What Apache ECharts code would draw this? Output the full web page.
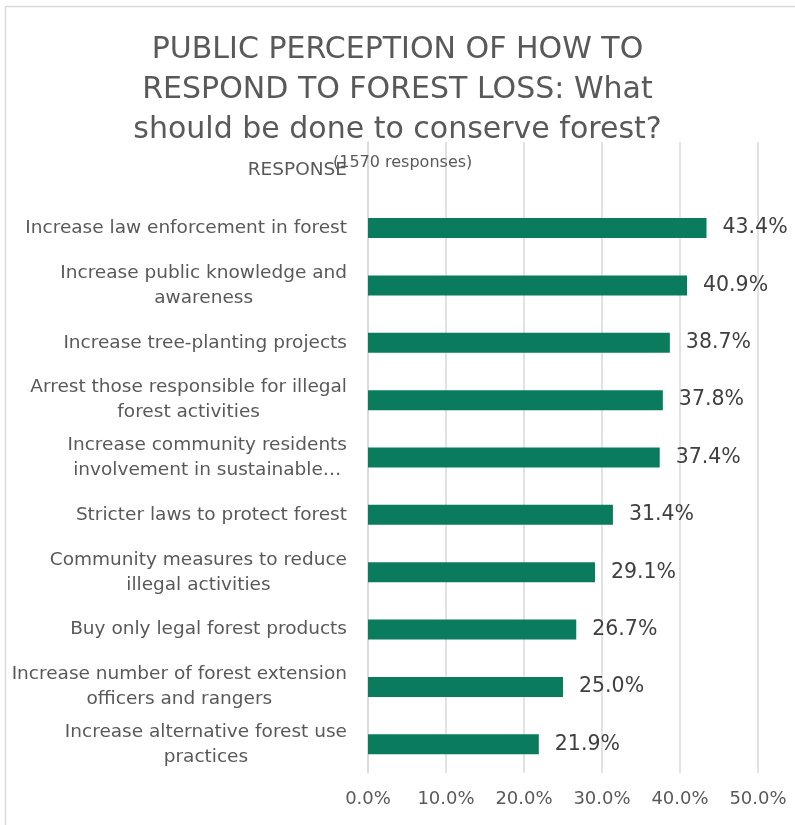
<!DOCTYPE html>
<html>
<head>
<meta charset="utf-8">
<script src="https://cdn.jsdelivr.net/npm/echarts@6/dist/echarts.min.js"></script>
<style>
  html, body { margin: 0; padding: 0; background: #ffffff; }
  #chart { width: 795px; height: 825px; }
</style>
</head>
<body>
<div id="chart"></div>
<script>
// Survey responses, listed top to bottom; "RESPONSE" is the header row with no value
const categories = [
  "RESPONSE",
  "Increase law enforcement in forest",
  "Increase public knowledge and\nawareness",
  "Increase tree-planting projects",
  "Arrest those responsible for illegal\nforest activities",
  "Increase community residents\ninvolvement in sustainable…",
  "Stricter laws to protect forest",
  "Community measures to reduce\nillegal activities",
  "Buy only legal forest products",
  "Increase number of forest extension\nofficers and rangers",
  "Increase alternative forest use\npractices"
];
const shares = [null, 43.4, 40.9, 38.7, 37.8, 37.4, 31.4, 29.1, 26.7, 25.0, 21.9];
const axisTicks = [0, 10, 20, 30, 40, 50];

const FONT = "DejaVu Sans";
const chart = echarts.init(document.getElementById("chart"), null, { renderer: "canvas" });

chart.setOption({
  backgroundColor: "#ffffff",
  animation: false,
  textStyle: { fontFamily: FONT },
  title: [
    {
      text: "PUBLIC PERCEPTION OF HOW TO\nRESPOND TO FOREST LOSS: What\nshould be done to conserve forest?",
      left: "center",
      top: 25,
      textStyle: { fontFamily: FONT, fontSize: 30, fontWeight: "normal", color: "#595959", lineHeight: 40, align: "center" }
    },
    {
      text: "(1570 responses)",
      left: 328,
      top: 150,
      textStyle: { fontFamily: FONT, fontSize: 16, fontWeight: "normal", color: "#595959" }
    }
  ],
  graphic: [
    {
      type: "rect",
      silent: true,
      shape: { x: 5.5, y: 6.5, width: 800, height: 830 },
      style: { fill: "none", stroke: "#d9d9d9", lineWidth: 1.5 }
    }
  ],
  grid: { left: 368, right: 37, top: 142, bottom: 52, containLabel: false },
  xAxis: {
    type: "value",
    min: axisTicks[0],
    max: axisTicks[axisTicks.length - 1],
    interval: 10,
    axisLine: { show: false },
    axisTick: { show: false },
    splitLine: { show: true, lineStyle: { color: "#d9d9d9", width: 1.5 } },
    axisLabel: {
      margin: 17,
      fontSize: 18,
      color: "#595959",
      fontFamily: FONT,
      formatter: v => v.toFixed(1) + "%"
    }
  },
  yAxis: {
    type: "category",
    inverse: true,
    data: categories,
    axisLine: { show: true, lineStyle: { color: "#d9d9d9", width: 1.5 } },
    axisTick: { show: false },
    axisLabel: {
      margin: 21,
      color: "#595959",
      formatter: v => v.split("\n").map(l => "{c|" + l + "}").join("\n"),
      rich: {
        c: { align: "center", fontSize: 18.5, lineHeight: 25, color: "#595959", fontFamily: FONT }
      }
    }
  },
  series: [
    {
      type: "bar",
      data: shares,
      barWidth: 20,
      itemStyle: { color: "#0A7B5D" },
      label: {
        show: true,
        position: "right",
        distance: 16,
        fontSize: 20.5,
        color: "#404040",
        fontFamily: FONT,
        formatter: p => (p.value == null ? "" : p.value.toFixed(1) + "%")
      }
    }
  ]
});
</script>
</body>
</html>
